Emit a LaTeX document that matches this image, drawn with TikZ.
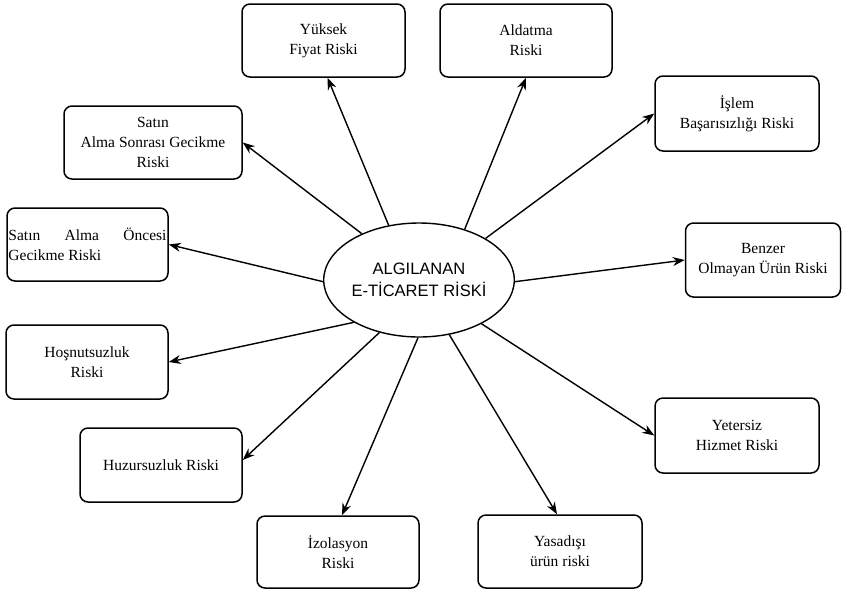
\documentclass[tikz,border=0pt]{standalone}
\usepackage{fontspec}
\setmainfont{Liberation Serif}
\setsansfont{Liberation Sans}
\usetikzlibrary{shapes, arrows.meta}

\tikzset{
    riskbox/.style={draw, line width=1.5pt, rounded corners=8pt, minimum height=73pt, inner sep=0pt, align=center, font=\fontsize{15.5}{20}\selectfont},
    riskarrow/.style={-{Stealth[length=12pt,width=9pt]}, line width=1.4pt}
}

\begin{document}
\begin{tikzpicture}[x=1pt,y=-1pt]

            \useasboundingbox (0,0) rectangle (842,590);

            \node[draw, ellipse, line width=1.4pt, minimum width=178pt, minimum height=114pt, inner sep=0pt, align=center, font=\sffamily\fontsize{16.5}{22}\selectfont] (risk) at (419,280) {ALGILANAN\\E-TİCARET RİSKİ};

            \node[riskbox, minimum width=163pt] (yuksek) at (323.5,40.5) {Yüksek\\Fiyat Riski};
            \node[riskbox, minimum width=172pt] (aldatma) at (526,40.5) {Aldatma\\Riski};
            \node[riskbox, minimum width=164pt, minimum height=75pt] (islem) at (737,113.5) {İşlem\\Başarısızlığı Riski};
            \node[riskbox, minimum width=178pt] (sonrasi) at (153,142.5) {Satın\\Alma Sonrası Gecikme\\Riski};
            \node[riskbox, minimum width=161pt, align=left] (oncesi) at (87.5,244.5) {\makebox[158pt][s]{Satın Alma Öncesi}\\Gecikme Riski};
            \node[riskbox, minimum width=155pt, minimum height=74pt] (benzer) at (763,260) {Benzer\\Olmayan Ürün Riski};
            \node[riskbox, minimum width=162pt, minimum height=74pt] (hosnut) at (87,362) {Hoşnutsuzluk\\Riski};
            \node[riskbox, minimum width=164pt, minimum height=75pt] (yetersiz) at (737,435.5) {Yetersiz\\Hizmet Riski};
            \node[riskbox, minimum width=162pt, minimum height=74pt] (huzur) at (161,465) {Huzursuzluk Riski};
            \node[riskbox, minimum width=162pt, minimum height=72pt] (izolasyon) at (338,552) {İzolasyon\\Riski};
            \node[riskbox, minimum width=164pt] (yasadisi) at (560,551.5) {Yasadışı\\ürün riski};

            \draw[riskarrow] (risk.119) -- ([xshift=4pt]yuksek.south);
            \draw[riskarrow] (risk.48) -- (aldatma.south);
            \draw[riskarrow] (risk.32.5) -- (islem.west);
            \draw[riskarrow] (risk.141.7) -- (sonrasi.east);
            \draw[riskarrow] (risk.181) -- (oncesi.east);
            \draw[riskarrow] (risk.359) -- (benzer.west);
            \draw[riskarrow] (risk.213) -- (hosnut.east);
            \draw[riskarrow] (risk.325.7) -- (yetersiz.west);
            \draw[riskarrow] (risk.233.3) -- ([yshift=5pt]huzur.east);
            \draw[riskarrow] (risk.269) -- ([xshift=4pt]izolasyon.north);
            \draw[riskarrow] (risk.299.7) -- ([xshift=-3pt]yasadisi.north);

\end{tikzpicture}
\end{document}
